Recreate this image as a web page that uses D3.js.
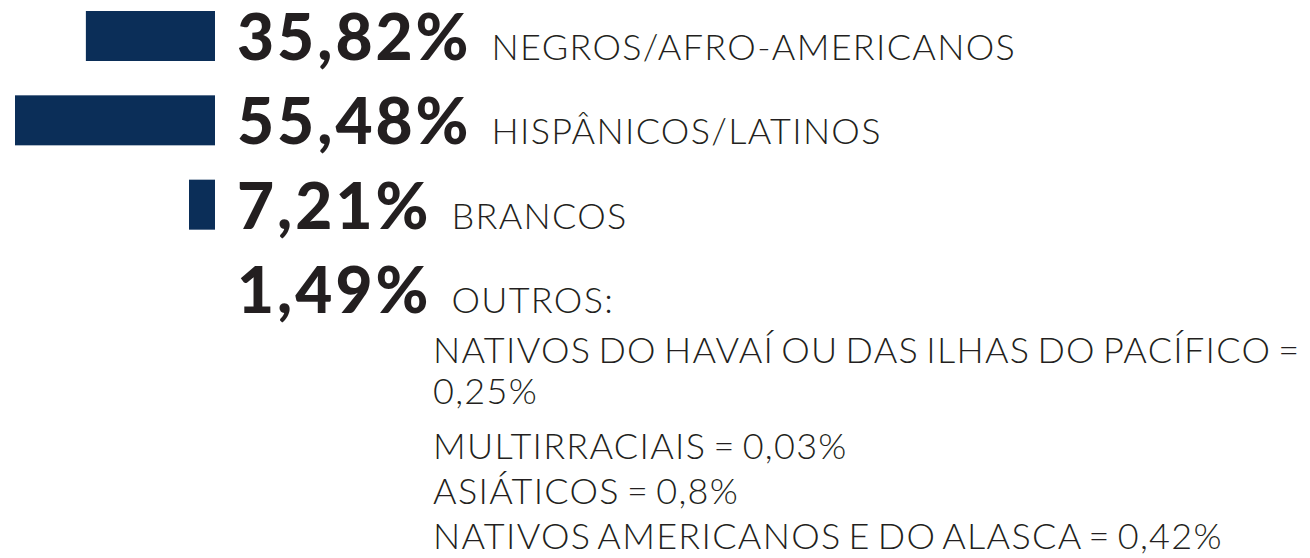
<!DOCTYPE html>
<html>
<head>
<meta charset="utf-8">
<script src="https://cdn.jsdelivr.net/npm/d3@7"></script>
<style>
  body { margin: 0; background: #fff; }
  svg { display: block; }
  .num { font-family: Lato, "Open Sans", sans-serif; font-weight: 900; font-size: 64px; letter-spacing: 3px; fill: #231f20; }
  .lbl { font-family: Lato, "Open Sans", sans-serif; font-weight: 300; font-size: 36px; letter-spacing: 1.3px; word-spacing: -4px; fill: #231f20; }
</style>
</head>
<body>
<svg id="chart"></svg>
<script>
// main groups
const groups = ["NEGROS/AFRO-AMERICANOS", "HISPÂNICOS/LATINOS", "BRANCOS", "OUTROS:"];
const shares = [35.82, 55.48, 7.21, 1.49];
const showBar = [true, true, true, false];

// breakdown of "outros"
const otherGroups = ["NATIVOS DO HAVAÍ OU DAS ILHAS DO PACÍFICO", "MULTIRRACIAIS", "ASIÁTICOS", "NATIVOS AMERICANOS E DO ALASCA"];
const otherShares = [0.25, 0.03, 0.8, 0.42];

const width = 1310, height = 558;
const svg = d3.select('#chart').attr('width', width).attr('height', height);

const ptBR = d3.formatLocale({ decimal: ",", thousands: ".", grouping: [3], currency: ["R$", ""] });
const fmt = ptBR.format(".2~f");

const barRight = 215;
const numX = 237;
const barColor = "#0b2e58";

const data = groups.map((g, i) => ({ group: g, share: shares[i], bar: showBar[i] }));

const xScale = d3.scaleLinear()
    .domain([0, d3.max(shares)])
    .range([0, 200]);

// baseline of each row
const yScale = d3.scalePoint()
    .domain(groups)
    .range([60, 313]);

const rows = svg.selectAll('g.row')
    .data(data)
    .enter()
    .append('g')
    .attr('class', 'row')
    .attr('transform', d => `translate(0,${yScale(d.group)})`);

rows.filter(d => d.bar)
    .append('rect')
    .attr('fill', barColor)
    .attr('x', d => barRight - xScale(d.share))
    .attr('y', -49)
    .attr('width', d => xScale(d.share))
    .attr('height', 50);

rows.append('text')
    .attr('class', 'num')
    .attr('x', numX)
    .attr('y', 0)
    .text(d => fmt(d.share) + '%');

rows.append('text')
    .attr('class', 'lbl')
    .attr('x', function(d) {
        const n = d3.select(this.parentNode).select('.num').node();
        return numX + n.getComputedTextLength() + 20;
    })
    .attr('y', 0)
    .text(d => d.group);

// breakdown list, wrapped at the right edge like the printed one
const listX = 433;
const maxWidth = width - listX;
const lineGap = 41, itemGap = 45;
let y = 363;
const list = svg.append('g');
otherGroups.forEach((g, i) => {
    // keep the "=" on the label's line
    const words = (g + '\u00a0= ' + fmt(otherShares[i]) + '%').split(' ');
    let line = [];
    let t = list.append('text').attr('class', 'lbl').attr('x', listX).attr('y', y);
    let wrapped = false;
    words.forEach(w => {
        line.push(w);
        t.text(line.join(' '));
        if (t.node().getComputedTextLength() > maxWidth && line.length > 1) {
            line.pop();
            t.text(line.join(' '));
            line = [w];
            y += lineGap;
            wrapped = true;
            t = list.append('text').attr('class', 'lbl').attr('x', listX).attr('y', y).text(w);
        }
    });
    y += wrapped ? itemGap + 10 : itemGap;
});
</script>
</body>
</html>
